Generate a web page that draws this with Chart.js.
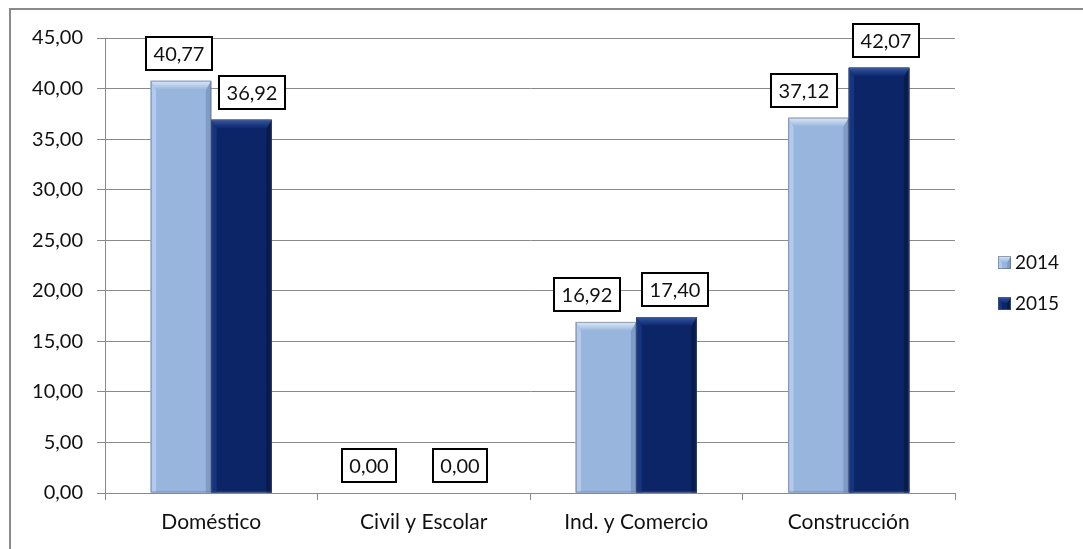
<!DOCTYPE html>
<html>
<head>
<meta charset="utf-8">
<script src="https://cdn.jsdelivr.net/npm/chart.js@4.4.1/dist/chart.umd.min.js"></script>
<style>
  html, body { margin: 0; padding: 0; background: #fff; overflow: hidden; }
  #wrap { position: relative; width: 1083px; height: 549px; }
</style>
</head>
<body>
<div id="wrap"><canvas id="c" width="1083" height="549"></canvas></div>
<script>
// ---- data ----
const categories = ['Doméstico', 'Civil y Escolar', 'Ind. y Comercio', 'Construcción'];
const seriesNames = ['2014', '2015'];
const values2014 = [40.77, 0.00, 16.92, 37.12];
const values2015 = [36.92, 0.00, 17.40, 42.07];
const yMin = 0, yMax = 45, yStep = 5;

// ---- styles ----
const faceColors = ['#98B5DD', '#0B2567'];
const bevelTop = ['#DCEAF9', '#3457A8'];
const bevelLeft = ['#B3CAEA', '#17347F'];
const bevelRight = ['#7F9CC6', '#081B4E'];
const labelShiftX = [[-2, -24, -19, -14], [10, 6, 8, 7]];
const FONT = 'Lato, "Open Sans", sans-serif';

function fmt(v) { return v.toFixed(2).replace('.', ','); }

const framePlugin = {
  id: 'frame',
  beforeDraw(chart) {
    const ctx = chart.ctx;
    ctx.save();
    ctx.fillStyle = '#fff';
    ctx.fillRect(0, 0, chart.width, chart.height);
    ctx.strokeStyle = '#8a8a8a';
    ctx.lineWidth = 2;
    ctx.strokeRect(10, 9, chart.width + 20, chart.height + 20);
    ctx.restore();
  }
};

function drawBevelBar(ctx, left, top, right, bottom, ds) {
  const w = right - left, h = bottom - top;
  if (h < 1) return;
  const b = Math.min(9, h / 2, w / 2);
  ctx.save();
  ctx.fillStyle = faceColors[ds];
  ctx.fillRect(left, top, w, h);
  ctx.fillStyle = bevelLeft[ds];
  ctx.beginPath();
  ctx.moveTo(left, top); ctx.lineTo(left + b * 0.6, top + b); ctx.lineTo(left + b * 0.6, bottom); ctx.lineTo(left, bottom);
  ctx.closePath(); ctx.fill();
  ctx.fillStyle = bevelRight[ds];
  ctx.beginPath();
  ctx.moveTo(right, top); ctx.lineTo(right - b * 0.6, top + b); ctx.lineTo(right - b * 0.6, bottom); ctx.lineTo(right, bottom);
  ctx.closePath(); ctx.fill();
  const g = ctx.createLinearGradient(0, top, 0, top + b);
  g.addColorStop(0, bevelTop[ds]);
  g.addColorStop(1, faceColors[ds]);
  ctx.fillStyle = g;
  ctx.beginPath();
  ctx.moveTo(left, top); ctx.lineTo(right, top); ctx.lineTo(right - b * 0.6, top + b); ctx.lineTo(left + b * 0.6, top + b);
  ctx.closePath(); ctx.fill();
  ctx.strokeStyle = 'rgba(90,100,120,0.55)';
  ctx.lineWidth = 1;
  ctx.strokeRect(left + 0.5, top + 0.5, w - 1, h - 1);
  ctx.restore();
}

const bevelPlugin = {
  id: 'bevel',
  afterDatasetsDraw(chart) {
    const ctx = chart.ctx;
    chart.data.datasets.forEach((d, di) => {
      const meta = chart.getDatasetMeta(di);
      meta.data.forEach(el => {
        const p = el.getProps(['x', 'y', 'base', 'width'], true);
        drawBevelBar(ctx, p.x - p.width / 2, p.y, p.x + p.width / 2, p.base, di);
      });
    });
  }
};

const labelPlugin = {
  id: 'boxLabels',
  afterDatasetsDraw(chart) {
    const ctx = chart.ctx;
    ctx.save();
    ctx.font = '20px ' + FONT;
    ctx.textAlign = 'center';
    ctx.textBaseline = 'middle';
    chart.data.datasets.forEach((d, di) => {
      const meta = chart.getDatasetMeta(di);
      meta.data.forEach((el, i) => {
        const txt = fmt(d.data[i]);
        const tw = ctx.measureText(txt).width;
        const bw = Math.round(tw + 17), bh = 35;
        const cx = el.x + labelShiftX[di][i];
        const bottom = el.y - 10;
        const x0 = Math.round(cx - bw / 2), y0 = Math.round(bottom - bh);
        ctx.fillStyle = '#fff';
        ctx.fillRect(x0, y0, bw, bh);
        ctx.strokeStyle = '#000';
        ctx.lineWidth = 2;
        ctx.strokeRect(x0 + 1, y0 + 1, bw - 2, bh - 2);
        ctx.fillStyle = '#111';
        ctx.fillText(txt, x0 + bw / 2, y0 + bh / 2 + 1);
      });
    });
    ctx.restore();
  }
};

const legendPlugin = {
  id: 'sideLegend',
  afterDraw(chart) {
    const ctx = chart.ctx;
    ctx.save();
    ctx.font = '19px ' + FONT;
    ctx.textBaseline = 'middle';
    ctx.textAlign = 'left';
    const ys = [262, 303];
    chart.data.datasets.forEach((d, di) => {
      const sx = 998, sy = ys[di] - 6, s = 13;
      drawBevelBar(ctx, sx, sy, sx + s, sy + s, di);
      ctx.fillStyle = '#111';
      ctx.fillText(d.label, 1015, ys[di] + 1);
    });
    ctx.restore();
  }
};

new Chart(document.getElementById('c'), {
  type: 'bar',
  data: {
    labels: categories,
    datasets: [
      { label: seriesNames[0], data: values2014, backgroundColor: faceColors[0], borderWidth: 0 },
      { label: seriesNames[1], data: values2015, backgroundColor: faceColors[1], borderWidth: 0 }
    ]
  },
  options: {
    responsive: false,
    animation: false,
    devicePixelRatio: 1,
    layout: { padding: { left: 0, top: 38, right: 128, bottom: 0 } },
    datasets: { bar: { barPercentage: 1.0, categoryPercentage: 0.57 } },
    plugins: { legend: { display: false }, tooltip: { enabled: false } },
    scales: {
      x: {
        grid: { display: true, drawOnChartArea: false, drawTicks: true, tickLength: 7, color: '#8a8a8a', offset: true },
        border: { display: true, color: '#8a8a8a', width: 1 },
        ticks: { font: { family: FONT, size: 21 }, color: '#111', padding: 10, maxRotation: 0, autoSkip: false },
        afterFit(scale) { scale.height = 56; }
      },
      y: {
        min: yMin, max: yMax,
        grid: { color: '#8a8a8a', tickLength: 8, drawTicks: true },
        border: { display: true, color: '#8a8a8a', width: 1 },
        ticks: { stepSize: yStep, font: { family: FONT, size: 20 }, color: '#111', padding: 14, callback: v => fmt(v) },
        afterFit(scale) { scale.width = 105; }
      }
    }
  },
  plugins: [framePlugin, bevelPlugin, labelPlugin, legendPlugin]
});
</script>
</body>
</html>
